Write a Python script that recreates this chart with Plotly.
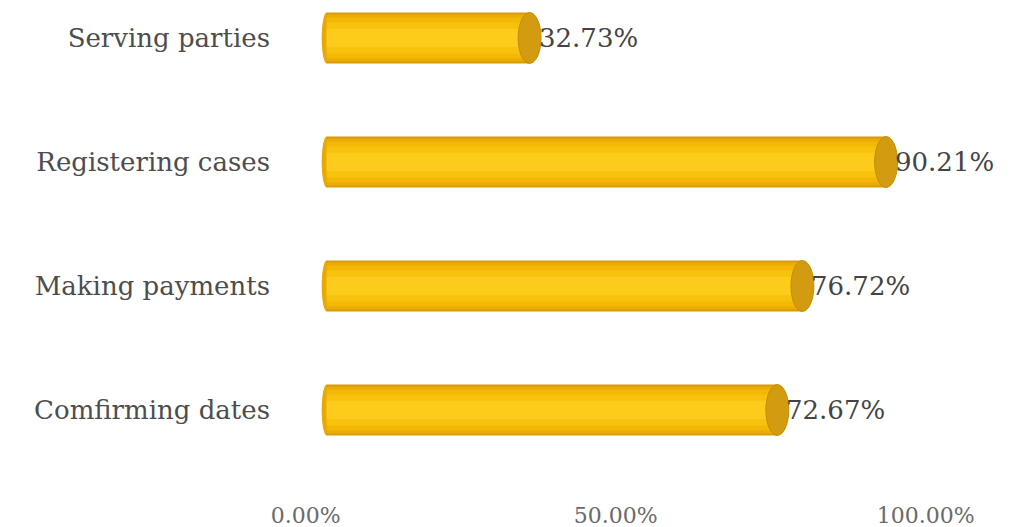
import plotly.graph_objects as go

categories = ["Serving parties", "Registering cases", "Making payments", "Comfirming dates"]
values = [32.73, 90.21, 76.72, 72.67]
tick_vals = [0, 50, 100]
tick_text = ["0.00%", "50.00%", "100.00%"]

ypos = list(range(len(categories)))
label_font = "DejaVu Serif, Liberation Serif, serif"

fig = go.Figure()

# cylinder body: overlay layers for shading
layers = [(0.41, "#D99A04"), (0.38, "#EBAC03"), (0.33, "#F3B806"), (0.25, "#F8C20C"), (0.15, "#FCCB1C")]
for w, c in layers:
    fig.add_trace(go.Bar(x=values, y=ypos, orientation="h", width=w,
                         marker=dict(color=c, line=dict(width=0)),
                         hoverinfo="skip", showlegend=False))

cap = 1.85
back = 0.8
shapes = []
for v, y in zip(values, ypos):
    shapes.append(dict(type="circle", xref="x", yref="y", layer="above",
                       x0=v - cap, x1=v + cap, y0=y - 0.205, y1=y + 0.205,
                       fillcolor="#D39C10", line=dict(color="#C48D08", width=1)))
    shapes.append(dict(type="circle", xref="x", yref="y", layer="below",
                       x0=-back, x1=back, y0=y - 0.205, y1=y + 0.205,
                       fillcolor="#E8A904", line=dict(width=0)))

annotations = [dict(x=v, y=y, xref="x", yref="y", text=f"{v:.2f}%",
                    showarrow=False, xanchor="left", yanchor="middle", xshift=7,
                    font=dict(family=label_font, size=26, color="#444444"))
               for v, y in zip(values, ypos)]

fig.update_layout(
    barmode="overlay",
    width=1002, height=519,
    margin=dict(l=300, r=57, t=0, b=27),
    paper_bgcolor="white", plot_bgcolor="white",
    shapes=shapes,
    annotations=annotations,
    xaxis=dict(range=[-3, 101], tickvals=tick_vals, ticktext=tick_text,
               showgrid=False, zeroline=False, showline=False, ticks="",
               automargin=False, ticklabelshift=-21,
               tickfont=dict(family=label_font, size=22, color="#6a6a6a")),
    yaxis=dict(range=[3.726, -0.242], tickvals=ypos, ticktext=categories,
               showgrid=False, zeroline=False, showline=False, ticks="",
               automargin=False, ticklabelstandoff=37,
               tickfont=dict(family=label_font, size=26, color="#4d4d4d")),
)

fig.write_html("out.html")
